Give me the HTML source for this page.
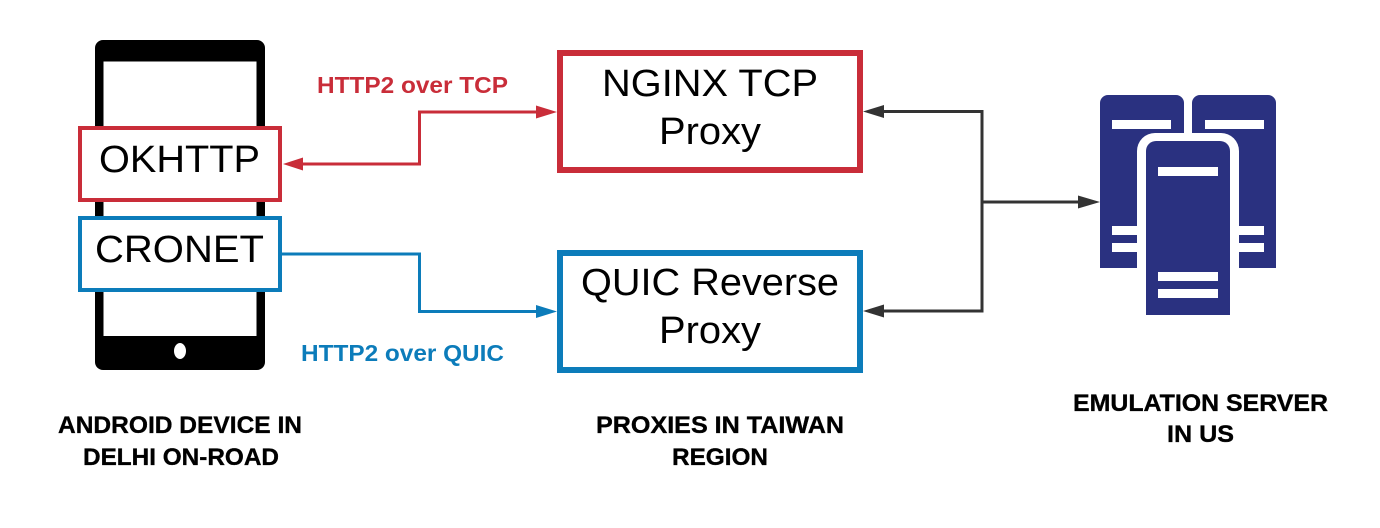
<!DOCTYPE html>
<html>
<head>
<meta charset="utf-8">
<style>
html,body{margin:0;padding:0;background:#fff}
svg{display:block}
text{font-family:"Liberation Sans",sans-serif}
.b{font-size:38px;fill:#000}
.l{font-size:24px;font-weight:bold;fill:#000;stroke:#000;stroke-width:.35px}
.c{font-size:23px;font-weight:bold}
</style>
</head>
<body>
<svg width="1380" height="528" viewBox="0 0 1380 528" xmlns="http://www.w3.org/2000/svg">
<rect width="1380" height="528" fill="#fff"/>

<!-- phone -->
<rect x="95" y="40" width="170" height="330" rx="8" fill="#000"/>
<rect x="103.500" y="61.500" width="153" height="274.500" fill="#fff"/>
<ellipse cx="180" cy="351" rx="6" ry="8" fill="#fff"/>

<!-- client boxes -->
<rect x="80" y="128" width="200" height="72" fill="#fff" stroke="#c92d39" stroke-width="4"/>
<rect x="80" y="218" width="200" height="72" fill="#fff" stroke="#0c7cba" stroke-width="4"/>
<text class="b" x="99" y="172" textLength="161" lengthAdjust="spacingAndGlyphs">OKHTTP</text>
<text class="b" x="95" y="262" textLength="169" lengthAdjust="spacingAndGlyphs">CRONET</text>

<!-- proxies -->
<rect x="560" y="53" width="300" height="117" fill="#fff" stroke="#c92d39" stroke-width="6"/>
<rect x="560" y="253" width="300" height="117" fill="#fff" stroke="#0c7cba" stroke-width="6"/>
<text class="b" x="602" y="96" textLength="216" lengthAdjust="spacingAndGlyphs">NGINX TCP</text>
<text class="b" x="659" y="144" textLength="102" lengthAdjust="spacingAndGlyphs">Proxy</text>
<text class="b" x="581" y="295" textLength="258" lengthAdjust="spacingAndGlyphs">QUIC Reverse</text>
<text class="b" x="659" y="343" textLength="102" lengthAdjust="spacingAndGlyphs">Proxy</text>

<!-- red connector -->
<path d="M303 164H419.500V112H536" fill="none" stroke="#c92d39" stroke-width="3"/>
<polygon points="283,164 303,157.500 303,170.500" fill="#c92d39"/>
<polygon points="557,112 536,105.500 536,118.500" fill="#c92d39"/>
<!-- blue connector -->
<path d="M282 254H419.500V311.500H536" fill="none" stroke="#0c7cba" stroke-width="3"/>
<polygon points="557,311.500 536,305 536,318" fill="#0c7cba"/>
<!-- dark connector -->
<path d="M884 111.500H982V311H884M982 202H1078" fill="none" stroke="#333" stroke-width="3"/>
<polygon points="863,111.500 884,105 884,118" fill="#333"/>
<polygon points="863,311 884,304.500 884,317.500" fill="#333"/>
<polygon points="1100,202 1078,195.500 1078,208.500" fill="#333"/>

<!-- connector labels -->
<text class="c" x="317" y="93" textLength="191" lengthAdjust="spacingAndGlyphs" fill="#c92d39">HTTP2 over TCP</text>
<text class="c" x="301" y="361" textLength="203" lengthAdjust="spacingAndGlyphs" fill="#0c7cba">HTTP2 over QUIC</text>

<!-- servers -->
<path d="M1100 268V103a8 8 0 0 1 8-8h68a8 8 0 0 1 8 8V268Z" fill="#2a3180"/>
<path d="M1192 268V103a8 8 0 0 1 8-8h68a8 8 0 0 1 8 8V268Z" fill="#2a3180"/>
<rect x="1112" y="120" width="59" height="9" fill="#fff"/>
<rect x="1205" y="120" width="59" height="9" fill="#fff"/>
<rect x="1112" y="226" width="59" height="9" fill="#fff"/>
<rect x="1112" y="243" width="59" height="9" fill="#fff"/>
<rect x="1205" y="226" width="59" height="9" fill="#fff"/>
<rect x="1205" y="243" width="59" height="9" fill="#fff"/>
<path d="M1137 320V151a18 18 0 0 1 18-18h66a18 18 0 0 1 18 18V320Z" fill="#fff"/>
<path d="M1146 315V151a10 10 0 0 1 10-10h64a10 10 0 0 1 10 10V315Z" fill="#2a3180"/>
<rect x="1158" y="167" width="60" height="9" fill="#fff"/>
<rect x="1158" y="272" width="60" height="9" fill="#fff"/>
<rect x="1158" y="289" width="60" height="9" fill="#fff"/>

<!-- captions -->
<text class="l" x="58" y="433" textLength="244" lengthAdjust="spacingAndGlyphs">ANDROID DEVICE IN</text>
<text class="l" x="83" y="465" textLength="196" lengthAdjust="spacingAndGlyphs">DELHI ON-ROAD</text>
<text class="l" x="596" y="433" textLength="248" lengthAdjust="spacingAndGlyphs">PROXIES IN TAIWAN</text>
<text class="l" x="672" y="465" textLength="96" lengthAdjust="spacingAndGlyphs">REGION</text>
<text class="l" x="1073" y="411" textLength="255" lengthAdjust="spacingAndGlyphs">EMULATION SERVER</text>
<text class="l" x="1167" y="442" textLength="67" lengthAdjust="spacingAndGlyphs">IN US</text>
</svg>
</body>
</html>
